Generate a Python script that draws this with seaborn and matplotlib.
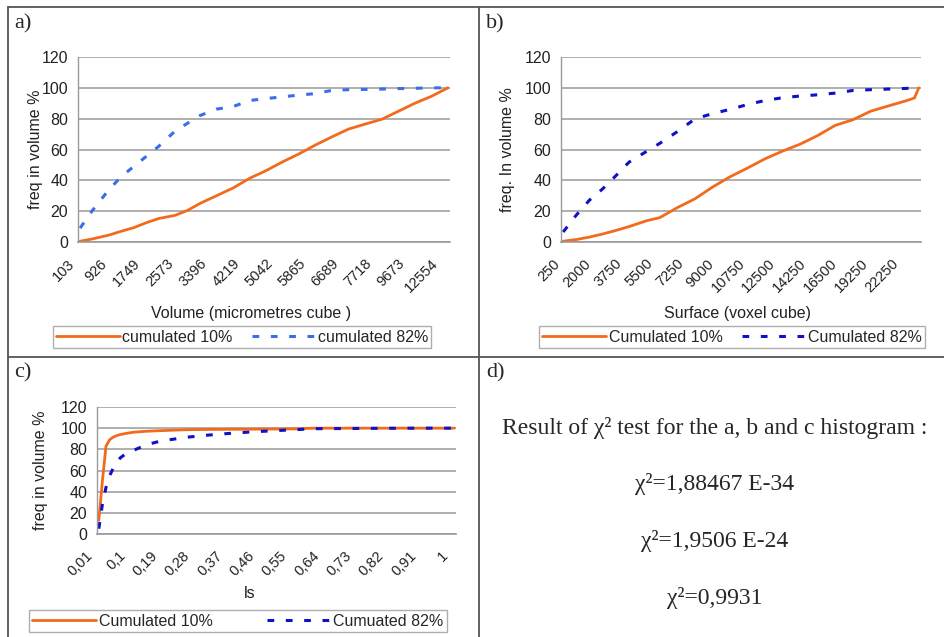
import matplotlib
matplotlib.use("Agg")
import matplotlib.pyplot as plt
import matplotlib.transforms as mtransforms
from matplotlib.lines import Line2D
import seaborn as sns
import pandas as pd

# ---- data ----
# panel a : volume histogram, 90 categories, label every 8
a_n = 90
a_labels = ["103", "926", "1749", "2573", "3396", "4219", "5042", "5865",
            "6689", "7718", "9673", "12554"]
a_idx = [0, 3, 7, 10, 13, 16, 19, 23, 26, 29, 33, 37, 41, 45, 49, 53, 57,
         61, 65, 69, 73, 77, 81, 85, 89]
a_cum10 = [0.5, 2, 4.5, 7, 9.3, 12.5, 15.2, 17.3, 20.5, 25, 30, 35, 41.3,
           46.3, 52, 57.2, 63, 68.3, 73.3, 76.5, 79.6, 84.8, 90, 94.5, 100]
a_cum82 = [9, 20.5, 34, 42.5, 49, 55.5, 62, 72, 77, 82, 86.2, 87.8, 91.8,
           93, 94.2, 95.3, 96.3, 98.4, 98.8, 99, 99.2, 99.5, 99.7, 100, 100]

# panel b : surface histogram, 82 categories, label every 7
b_n = 82
b_labels = ["250", "2000", "3750", "5500", "7250", "9000", "10750", "12500",
            "14250", "16500", "19250", "22250"]
b_idx = [0, 3, 6, 9, 12, 15, 19, 22, 26, 30, 34, 38, 42, 46, 50, 54, 58,
         62, 66, 70, 74, 78, 80, 81]
b_cum10 = [0.5, 1.6, 3.2, 5.2, 7.5, 10, 13.8, 15.8, 22.3, 28, 35.6, 42.3,
           48, 54, 59, 63.5, 69.1, 75.7, 79.3, 84.8, 88.2, 91.5, 93.4, 100]
b_cum82 = [6.5, 17.5, 27.2, 34.5, 43, 51.8, 58.8, 64, 71.6, 79.8, 83.3, 86,
           89.2, 91.8, 93.6, 94.7, 95.5, 96.6, 98.3, 98.8, 99.2, 99.6, 100, 100]

# panel c : ls histogram, 100 categories (0,01 .. 1), label every 9
c_n = 100
c_labels = ["0,01", "0,1", "0,19", "0,28", "0,37", "0,46", "0,55", "0,64",
            "0,73", "0,82", "0,91", "1"]
c_idx = [0, 1, 2, 3, 4, 5, 6, 8, 10, 13, 16, 20, 25, 30, 35, 40, 45, 50,
         55, 60, 65, 70, 80, 90, 99]
c_cum10 = [13, 50, 83, 89, 91.5, 93, 94, 95.3, 96.3, 97, 97.5, 98, 98.6,
           98.8, 98.9, 99, 99.1, 99.2, 99.3, 100, 100, 100, 100, 100, 100]
c_cum82 = [5, 28, 44, 55, 62, 68, 72, 77, 79.5, 84, 86.8, 89.2, 91.6, 93.3,
           94.7, 95.9, 96.9, 97.8, 98.6, 99.5, 99.6, 99.7, 99.9, 100, 100]

chi2_title = "Result of \u03c7\u00b2 test for the a, b and c histogram :"
chi2_lines = ["\u03c7\u00b2=1,88467 E-34", "\u03c7\u00b2=1,9506 E-24",
              "\u03c7\u00b2=0,9931"]

ORANGE = "#f26a1b"
W, H = 944, 637

sns.set_style("white")
plt.rcParams["font.family"] = ["Liberation Sans", "DejaVu Sans"]

fig = plt.figure(figsize=(W / 100, H / 100), dpi=100)


def rect(l, t, r, b):
    return [l / W, 1 - b / H, (r - l) / W, (b - t) / H]


def panel(pos, n, labels, step, idx, y10, y82, blue, xlabel, ylabel, names,
          leg_xy, leg_gap, label_shift, xlab_xy, ylab_x):
    ax = fig.add_axes(rect(*pos))
    df = pd.DataFrame({"cat": idx, "c10": y10, "c82": y82})
    sns.lineplot(data=df, x="cat", y="c10", ax=ax, color=ORANGE, lw=2.0,
                 label=names[0])
    sns.lineplot(data=df, x="cat", y="c82", ax=ax, color=blue, lw=2.2,
                 linestyle=(0, (2.2, 3.8)), label=names[1])
    ax.set_xlim(-0.5, n - 0.5)
    ax.set_ylim(0, 120)
    ax.set_yticks(range(0, 121, 20))
    ax.yaxis.grid(True, color="#9a9a9a", lw=1.1)
    ax.set_axisbelow(True)
    for s in ["top", "right"]:
        ax.spines[s].set_visible(False)
    ax.spines["left"].set_color("#9a9a9a")
    ax.spines["bottom"].set_color("#9a9a9a")
    ax.spines["left"].set_linewidth(1.0)
    ax.spines["bottom"].set_linewidth(1.2)
    ax.set_xticks([i * step for i in range(len(labels))])
    ax.set_xticklabels(labels, rotation=45, ha="right", va="center",
                       rotation_mode="anchor", fontsize=10.5, color="#222222")
    ax.set_xticks([i - 0.5 for i in range(n + 1)], minor=True)
    ax.tick_params(axis="x", which="major", length=0, pad=14)
    ax.tick_params(axis="x", which="minor", length=4, width=0.8,
                   color="#9a9a9a", direction="out")
    ax.tick_params(axis="y", length=4, width=0.8, color="#9a9a9a",
                   labelsize=11.5, labelcolor="#222222", pad=3)
    shift = mtransforms.ScaledTranslation(label_shift / 100, 0,
                                          fig.dpi_scale_trans)
    for t in ax.get_xticklabels():
        t.set_transform(t.get_transform() + shift)
    ax.set_xlabel(xlabel, fontsize=11.5, color="#222222")
    ax.set_ylabel(ylabel, fontsize=11.5, color="#222222")
    ax.xaxis.set_label_coords(*xlab_xy)
    ax.yaxis.set_label_coords(ylab_x, 0.5)
    ax.get_legend().remove()
    leg = fig.legend(handles=ax.get_lines()[:2], labels=names,
                     loc="center", ncol=2, fontsize=11.5,
                     bbox_to_anchor=(leg_xy[0] / W, 1 - leg_xy[1] / H),
                     frameon=True, fancybox=False, handlelength=4.0,
                     columnspacing=leg_gap, handletextpad=0.15,
                     borderpad=0.2, edgecolor="#9a9a9a")
    leg.get_frame().set_linewidth(1.0)
    return ax


panel((78, 57, 450, 242), a_n, a_labels, 8, a_idx, a_cum10, a_cum82,
      "#3a6ee6", "Volume (micrometres cube )", "freq in volume %",
      ["cumulated 10%", "cumulated 82%"], (242, 337), 1.2, -8,
      (0.465, -0.345), -0.094)
panel((561, 57, 921, 242), b_n, b_labels, 7, b_idx, b_cum10, b_cum82,
      "#1010c8", "Surface (voxel cube)", "freq. In volume %",
      ["Cumulated 10%", "Cumulated 82%"], (732, 337), 1.2, -5,
      (0.49, -0.345), -0.128)
panel((97, 407, 456, 534), c_n, c_labels, 9, c_idx, c_cum10, c_cum82,
      "#1010c8", "ls", "freq in volume %",
      ["Cumulated 10%", "Cumuated 82%"], (238, 621), 3.4, -8,
      (0.425, -0.41), -0.136)

# panel d : chi-square results
serif = ["Liberation Serif", "DejaVu Serif"]
fig.text(715 / W, 1 - 428 / H, chi2_title, ha="center", va="center",
         fontsize=17, family=serif)
for k, s in enumerate(chi2_lines):
    fig.text(715 / W, 1 - (484 + 57 * k) / H, s, ha="center", va="center",
             fontsize=17, family=serif)

# panel letters
for s, x, y in [("a)", 14, 24), ("b)", 486, 24), ("c)", 14, 373), ("d)", 486, 373)]:
    fig.text(x / W, 1 - y / H, s, ha="left", va="center", fontsize=16,
             family=serif)

# table borders
bc = "#555555"
for xs, ys in [((8, W), (7, 7)), ((8, 8), (7, H)), ((479, 479), (7, H)),
               ((8, W), (357, 357))]:
    fig.add_artist(Line2D([x / W for x in xs], [1 - y / H for y in ys],
                          color=bc, lw=1.3))

fig.savefig("out.png", dpi=100, facecolor="white")
